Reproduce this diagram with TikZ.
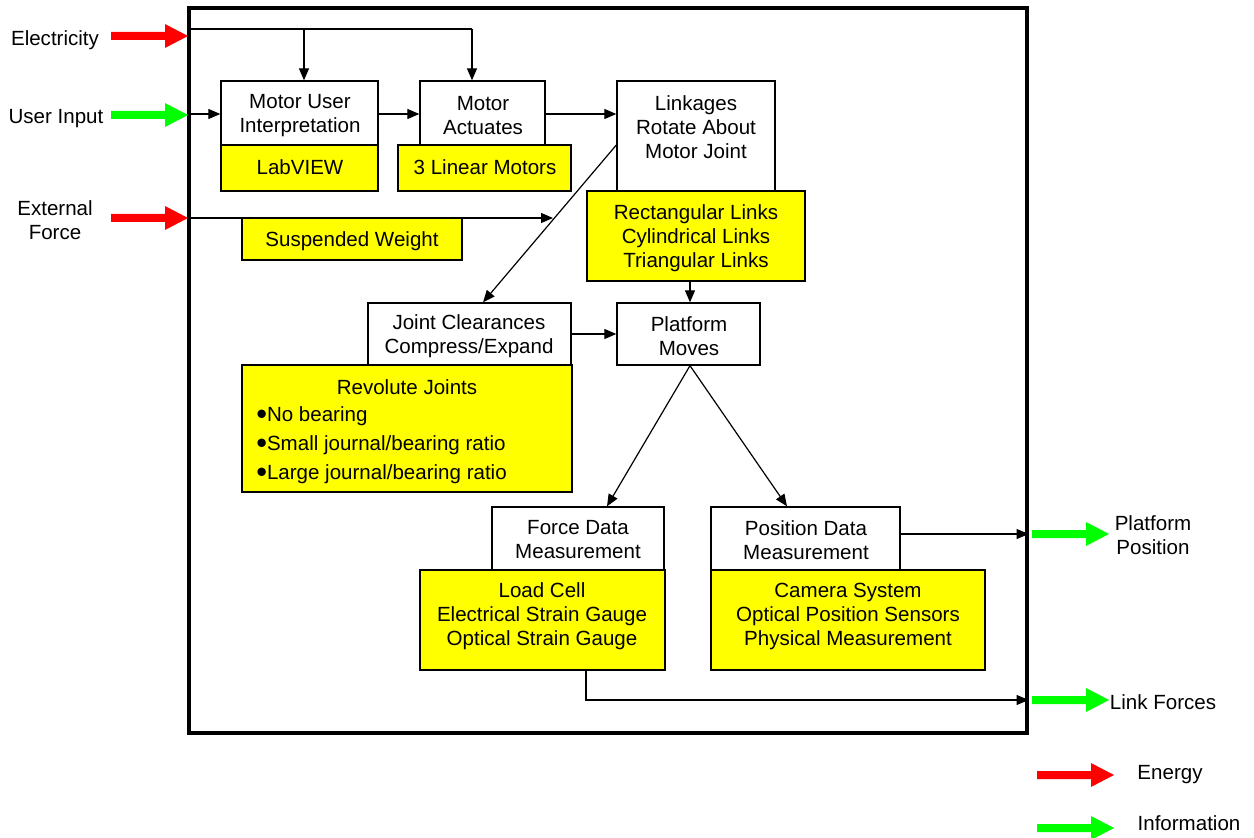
\documentclass[tikz,border=0pt]{standalone}
\usepackage{fontspec}
\setmainfont{Liberation Sans}
\usetikzlibrary{arrows.meta,fit}
\definecolor{ylw}{RGB}{255,255,0}
\definecolor{grn}{RGB}{0,255,0}
\definecolor{rd}{RGB}{255,0,0}
\newcommand\bigbul{\raisebox{-0.17em}{\scalebox{1.5}{\textbullet}}}
\tikzset{
 wbox/.style={draw, line width=1pt, fill=white, inner sep=0pt},
 ybox/.style={draw, line width=1pt, fill=ylw, inner sep=0pt},
 txt/.style={inner sep=0pt, align=center},
 conn/.style={line width=0.9pt, -{Triangle[length=9pt,width=7.5pt]}},
 plain/.style={line width=0.9pt},
 fatarrow/.pic={\path[pic actions] (0,-4) -- (54,-4) -- (54,-12) -- (77,0) -- (54,12) -- (54,4) -- (0,4) -- cycle;}
}
\begin{document}
\begin{tikzpicture}[x=0.75pt,y=-0.75pt,font=\fontsize{15.4}{18}\selectfont]
\useasboundingbox (0,0) rectangle (1254,838);
% frame
\node[draw, line width=2.4pt, inner sep=0pt, fit={(189,8)(1027,733)}] (frame) {};
% boxes
\node[wbox, fit={(221,81)(378,145)}] (mui) {};
\node[ybox, fit={(221,145)(378,191)}] (lab) {};
\node[wbox, fit={(420,81)(545,145)}] (ma) {};
\node[ybox, fit={(398,145)(571,191)}] (lm) {};
\node[wbox, fit={(617,81)(775,191)}] (lk) {};
\node[ybox, fit={(587,191)(805,281)}] (rl) {};
\node[ybox, fit={(242,218)(462,260)}] (sw) {};
\node[wbox, fit={(368,303)(571,365)}] (jc) {};
\node[ybox, fit={(242,365)(572,492)}] (rj) {};
\node[wbox, fit={(617,303)(760,365)}] (pm) {};
\node[wbox, fit={(492,507)(664,570)}] (fd) {};
\node[ybox, fit={(420,570)(665,670)}] (lc) {};
\node[wbox, fit={(711,507)(900,570)}] (pd) {};
\node[ybox, fit={(711,570)(985,670)}] (cs) {};
% texts in boxes
\node[txt] (tmui) at (300,116) {Motor User\\Interpretation};
\node[txt] (tlab) at (300,167) {LabVIEW};
\node[txt] (tma) at (483,116) {Motor\\Actuates};
\node[txt] (tlm) at (485,167) {3 Linear Motors};
\node[txt] (tlk) at (696,127) {Linkages\\Rotate About\\Motor Joint};
\node[txt] (trl) at (696,238) {Rectangular Links\\Cylindrical Links\\Triangular Links};
\node[txt] (tsw) at (352,241) {Suspended Weight};
\node[txt] (tjc) at (469,336) {Joint Clearances\\Compress/Expand};
\node[txt] (tpm) at (689,336) {Platform\\Moves};
\node[txt] (trj) at (407,387) {Revolute Joints};
\node[inner sep=0pt, align=left, anchor=west, font=\fontsize{15.4}{21.75}\selectfont] (trjb) at (256,445) {\bigbul No bearing\\\bigbul Small journal/bearing ratio\\\bigbul Large journal/bearing ratio};
\node[txt] (tfd) at (578,540) {Force Data\\Measurement};
\node[txt] (tlc) at (542,616) {Load Cell\\Electrical Strain Gauge\\Optical Strain Gauge};
\node[txt] (tpd) at (806,540) {Position Data\\Measurement};
\node[txt] (tcs) at (848,616) {Camera System\\Optical Position Sensors\\Physical Measurement};
% outside labels
\node[txt] (lelec) at (55,40) {Electricity};
\node[txt] (luser) at (56,119) {User Input};
\node[txt] (lext) at (55,220) {External\\Force};
\node[txt] (lpp) at (1153,535) {Platform\\Position};
\node[txt] (llf) at (1163,702) {Link Forces};
\node[txt] (len) at (1170,775) {Energy};
\node[txt] (linf) at (1189,823) {Information};
% fat arrows
\pic[fill=rd] at (111,36) {fatarrow};
\pic[fill=grn] at (111,115) {fatarrow};
\pic[fill=rd] at (111,218) {fatarrow};
\pic[fill=grn] at (1032,534) {fatarrow};
\pic[fill=grn] at (1032,700) {fatarrow};
\pic[fill=rd] at (1037,775) {fatarrow};
\pic[fill=grn] at (1037,828) {fatarrow};
% connectors
\coordinate (eIn) at (189,29);
\coordinate (eB1) at (304,29);
\coordinate (eB2) at (472,29);
\draw[plain] (eIn) -- (eB2);
\draw[conn] (eB2) -- (eB2 |- ma.north);
\draw[conn] (eB1) -- (eB1 |- mui.north);
\coordinate (uIn) at (189,114);
\draw[conn] (uIn) -- (uIn -| mui.west);
\draw[conn] (mui.east |- uIn) -- (ma.west |- uIn);
\draw[conn] (ma.east |- uIn) -- (lk.west |- uIn);
\coordinate (dg) at (618,145);
\coordinate (dgEnd) at (483,303);
\draw[conn] (lk.west |- dg) -- (jc.north -| dgEnd);
\coordinate (fIn) at (189,218);
\coordinate (fEnd) at (553,218);
\draw[conn] (fIn) -- (fEnd);
\coordinate (vx) at (690,0);
\draw[conn] (rl.south -| vx) -- (pm.north -| vx);
\draw[conn] (jc.east) -- (pm.west);
\coordinate (fdTop) at (607,0);
\coordinate (pdTop) at (787,0);
\draw[conn] (pm.south -| vx) -- (fd.north -| fdTop);
\draw[conn] (pm.south -| vx) -- (pd.north -| pdTop);
\coordinate (oy1) at (0,534);
\draw[conn] (pd.east |- oy1) -- (frame.east |- oy1);
\coordinate (lx) at (586,700);
\draw[conn] (lc.south -| lx) -- (lx) -- (frame.east |- lx);
\end{tikzpicture}
\end{document}
